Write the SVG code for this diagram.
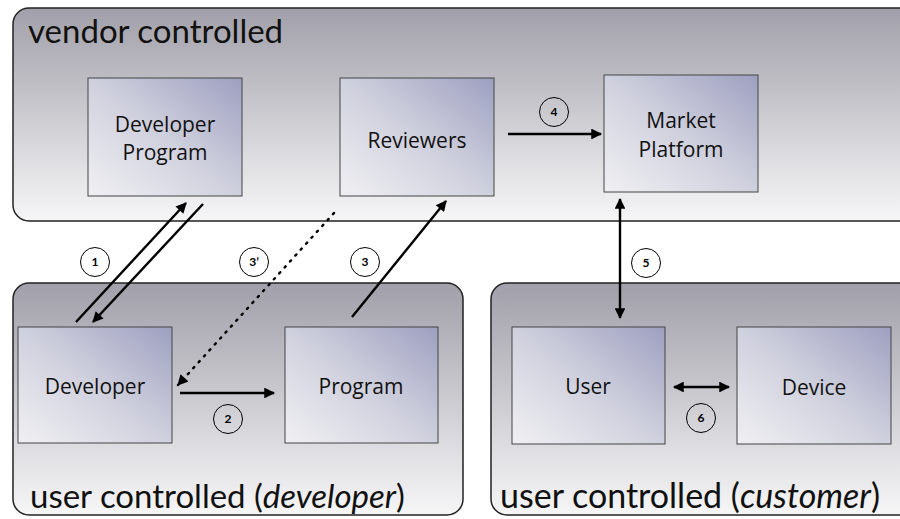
<svg xmlns="http://www.w3.org/2000/svg" width="900" height="519" viewBox="0 0 900 519">
<defs>
<linearGradient id="panel" x1="0" y1="0" x2="0" y2="1">
<stop offset="0" stop-color="#a19fa9"/>
<stop offset="1" stop-color="#f6f6f7"/>
</linearGradient>
<linearGradient id="node" x1="0" y1="1" x2="1" y2="0">
<stop offset="0" stop-color="#f0f0f3"/>
<stop offset="0.5" stop-color="#cfd0dd"/>
<stop offset="1" stop-color="#9e9fc0"/>
</linearGradient>
<marker id="ah" viewBox="0 0 10 10" refX="9" refY="5" markerWidth="5" markerHeight="4.5" orient="auto-start-reverse" markerUnits="strokeWidth">
<path d="M0,0 L10,5 L0,10 Z" fill="#000"/>
</marker>
<style>
.panel{fill:url(#panel);stroke:#222;stroke-width:1.5}
.node rect{fill:url(#node);stroke:#444;stroke-width:1}
.lbl{font-family:"Open Sans",Lato,sans-serif;font-size:21px;fill:#111;text-anchor:middle}
.title{font-family:Lato,"Open Sans",sans-serif;font-size:33px;fill:#111}
.conn line{stroke:#000;stroke-width:2.4;fill:none}
.dot{stroke-dasharray:1.5 6.5;stroke-linecap:round}
.num circle{fill:#fff;fill-opacity:0;stroke:#000;stroke-width:1}
.num text{font-family:Lato,"Open Sans",sans-serif;font-size:12px;font-weight:bold;text-anchor:middle;fill:#000}
</style>
</defs>
<rect width="900" height="519" fill="#fff"/>
<g id="vendor-panel">
<rect class="panel" x="13" y="8" width="910" height="213" rx="16"/>
<text class="title" x="28" y="43">vendor controlled</text>
</g>
<g id="developer-panel">
<rect class="panel" x="13" y="283" width="450" height="232" rx="16"/>
<text class="title" x="30" y="508">user controlled (<tspan font-style="italic">developer</tspan>)</text>
</g>
<g id="customer-panel">
<rect class="panel" x="491" y="283" width="430" height="232" rx="16"/>
<text class="title" x="500" y="508" style="font-size:34px">user controlled (<tspan font-style="italic">customer</tspan>)</text>
</g>
<g id="developer-program" class="node">
<rect x="88" y="78" width="154" height="118"/>
<text class="lbl" x="165" y="132">Developer</text>
<text class="lbl" x="165" y="160">Program</text>
</g>
<g id="reviewers" class="node">
<rect x="340" y="78" width="154" height="118"/>
<text class="lbl" x="417" y="148">Reviewers</text>
</g>
<g id="market-platform" class="node">
<rect x="604" y="75" width="154" height="117"/>
<text class="lbl" x="681" y="128">Market</text>
<text class="lbl" x="681" y="157">Platform</text>
</g>
<g id="developer" class="node">
<rect x="18" y="327" width="154" height="116"/>
<text class="lbl" x="95" y="394">Developer</text>
</g>
<g id="program" class="node">
<rect x="285" y="327" width="153" height="116"/>
<text class="lbl" x="361" y="394">Program</text>
</g>
<g id="user" class="node">
<rect x="512" y="327" width="153" height="117"/>
<text class="lbl" x="588" y="394">User</text>
</g>
<g id="device" class="node">
<rect x="737" y="327" width="154" height="117"/>
<text class="lbl" x="814" y="395">Device</text>
</g>
<g id="connectors" class="conn">
<line x1="76" y1="322" x2="186" y2="203" marker-end="url(#ah)"/>
<line x1="203" y1="204" x2="93" y2="322" marker-end="url(#ah)"/>
<line class="dot" x1="334" y1="213" x2="178" y2="385" marker-end="url(#ah)" style="stroke-width:2.4"/>
<line x1="352" y1="317" x2="446" y2="201" marker-end="url(#ah)"/>
<line x1="180" y1="393" x2="274" y2="393" marker-end="url(#ah)"/>
<line x1="508" y1="134" x2="601" y2="134" marker-end="url(#ah)"/>
<line x1="620" y1="199" x2="620" y2="318" marker-start="url(#ah)" marker-end="url(#ah)"/>
<line x1="674" y1="387" x2="729" y2="387" marker-start="url(#ah)" marker-end="url(#ah)"/>
</g>
<g id="step-labels" class="num">
<g><circle cx="95" cy="262" r="14.5"/><text x="95" y="266">1</text></g>
<g><circle cx="254" cy="262" r="14.5"/><text x="254" y="266">3’</text></g>
<g><circle cx="365" cy="262" r="14.5"/><text x="365" y="266">3</text></g>
<g><circle cx="228" cy="419" r="14.5"/><text x="228" y="423">2</text></g>
<g><circle cx="554" cy="112" r="14.5"/><text x="554" y="116">4</text></g>
<g><circle cx="646" cy="263" r="14.5"/><text x="646" y="267">5</text></g>
<g><circle cx="701" cy="418" r="14.5"/><text x="701" y="422">6</text></g>
</g>
</svg>
